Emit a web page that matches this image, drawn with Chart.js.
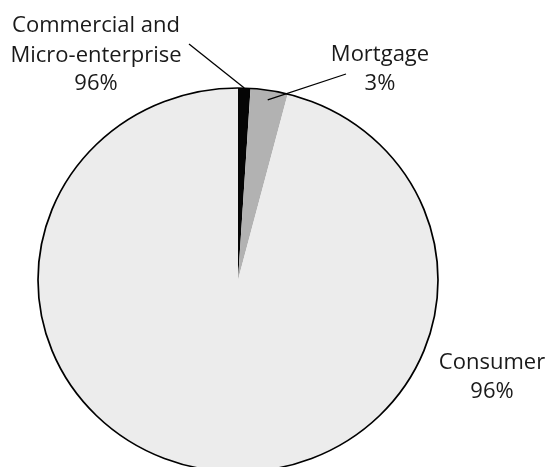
<!DOCTYPE html>
<html>
<head>
<meta charset="utf-8">
<script src="https://cdn.jsdelivr.net/npm/chart.js@4.4.0/dist/chart.umd.min.js"></script>
<style>
  html, body { margin: 0; padding: 0; background: #fff; }
  #wrap { width: 546px; height: 467px; overflow: hidden; position: relative; }
  canvas { display: block; }
</style>
</head>
<body>
<div id="wrap"><canvas id="pie" width="546" height="500"></canvas></div>
<script>
// loan portfolio by segment
const segments = ['Commercial and Micro-enterprise', 'Mortgage', 'Consumer'];
const shares = [1, 3, 96];
const sliceColors = ['#050505', '#b2b2b2', '#ececec'];

// label text as printed next to each slice
const labelLines = [
    ['Commercial and', 'Micro-enterprise', '96%'],
    ['Mortgage', '3%'],
    ['Consumer', '96%']
];

// the pie is drawn slightly flattened
const SQUASH = 0.96;

const pieShape = {
    id: 'pieShape',
    beforeDatasetsDraw(chart) {
        const arc = chart.getDatasetMeta(0).data[0];
        const ctx = chart.ctx;
        ctx.save();
        ctx.translate(0, arc.y);
        ctx.scale(1, SQUASH);
        ctx.translate(0, -arc.y);
    },
    afterDatasetsDraw(chart) {
        const arc = chart.getDatasetMeta(0).data[0];
        const ctx = chart.ctx;
        // outer rim only, no lines between slices
        ctx.beginPath();
        ctx.arc(arc.x, arc.y, arc.outerRadius, 0, Math.PI * 2);
        ctx.lineWidth = 1.7;
        ctx.strokeStyle = '#000';
        ctx.stroke();
        ctx.restore();
    }
};

// point on a slice at its middle angle, r as fraction of the radius
function slicePoint(arc, r) {
    const a = (arc.startAngle + arc.endAngle) / 2;
    return {
        x: arc.x + Math.cos(a) * arc.outerRadius * r,
        y: arc.y + Math.sin(a) * arc.outerRadius * r * SQUASH
    };
}

const calloutLabels = {
    id: 'calloutLabels',
    afterDraw(chart, args, opts) {
        const ctx = chart.ctx;
        const arcs = chart.getDatasetMeta(0).data;
        ctx.save();
        ctx.strokeStyle = '#000';
        ctx.lineWidth = 1.3;
        opts.leaders.forEach(ld => {
            const p = slicePoint(arcs[ld.index], ld.r);
            ctx.beginPath();
            ctx.moveTo(ld.from[0], ld.from[1]);
            ctx.lineTo(p.x, p.y);
            ctx.stroke();
        });
        ctx.fillStyle = '#1a1a1a';
        ctx.font = opts.font;
        ctx.textAlign = 'center';
        ctx.textBaseline = 'alphabetic';
        opts.blocks.forEach((b, i) => {
            labelLines[i].forEach((line, j) => {
                ctx.fillText(line, b.x, b.baselines[j]);
            });
        });
        ctx.restore();
    }
};

new Chart(document.getElementById('pie'), {
    type: 'pie',
    data: {
        labels: segments,
        datasets: [{
            data: shares,
            backgroundColor: sliceColors,
            borderWidth: 0
        }]
    },
    options: {
        responsive: false,
        animation: false,
        layout: { padding: { left: 38, right: 108, top: 80, bottom: 20 } },
        plugins: {
            legend: { display: false },
            tooltip: { enabled: false },
            calloutLabels: {
                font: '22px "Open Sans"',
                blocks: [
                    { x: 96, baselines: [32, 62, 90] },
                    { x: 380, baselines: [61, 90] },
                    { x: 492, baselines: [369, 398] }
                ],
                leaders: [
                    { index: 0, from: [189, 44], r: 1.0 },
                    { index: 1, from: [346, 74], r: 0.95 }
                ]
            }
        }
    },
    plugins: [pieShape, calloutLabels]
});
</script>
</body>
</html>
